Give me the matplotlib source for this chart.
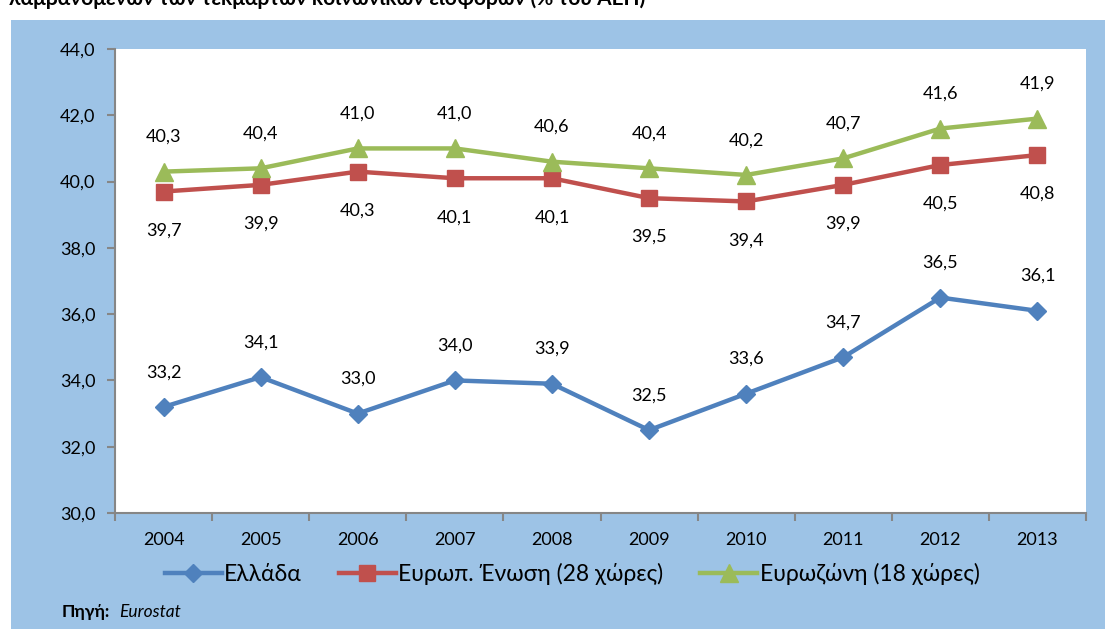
import matplotlib
matplotlib.use('Agg')
import matplotlib.pyplot as plt
from matplotlib.patches import Rectangle
from matplotlib.ticker import FuncFormatter

plt.rcParams['font.family'] = ['Lato', 'Noto Sans', 'DejaVu Sans']

#----- data (% of GDP)
years = [2004, 2005, 2006, 2007, 2008, 2009, 2010, 2011, 2012, 2013]
greece = [33.2, 34.1, 33.0, 34.0, 33.9, 32.5, 33.6, 34.7, 36.5, 36.1]
eu28 = [39.7, 39.9, 40.3, 40.1, 40.1, 39.5, 39.4, 39.9, 40.5, 40.8]
ez18 = [40.3, 40.4, 41.0, 41.0, 40.6, 40.4, 40.2, 40.7, 41.6, 41.9]
labels = ['Ελλάδα', 'Ευρωπ. Ένωση (28 χώρες)', 'Ευρωζώνη (18 χώρες)']
title = 'λαμβανομένων των τεκμαρτών κοινωνικών εισφορών (% του ΑΕΠ)'

W, H = 1105, 629
fig = plt.figure(figsize=(W/100, H/100), dpi=100)
fig.patch.set_facecolor('white')
bg = '#9DC3E6'
fig.patches.append(Rectangle((11/W, 0), 1 - 11/W, 1 - 20/H, transform=fig.transFigure,
                             facecolor=bg, edgecolor='none', zorder=-10))

fig.text(9/W, 1 + 1/H, title, fontsize=15, fontweight='bold', ha='left', va='center')

ax = fig.add_axes([115/W, 1 - 513/H, 971/W, (513 - 49)/H])
ax.set_zorder(2)
ax.set_facecolor('white')

x = list(range(len(years)))
blue = '#4F81BD'
red = '#C0504D'
green = '#9BBB59'
ax.plot(x, greece, color=blue, lw=3.2, marker='D', ms=9, label=labels[0], zorder=3)
ax.plot(x, eu28, color=red, lw=3.2, marker='s', ms=11, label=labels[1], zorder=3)
ax.plot(x, ez18, color=green, lw=3.2, marker='^', ms=13, label=labels[2], zorder=3)

def fmt(v):
    return ('%.1f' % v).replace('.', ',')

for i in x:
    ax.annotate(fmt(greece[i]), (i, greece[i]), xytext=(0, 25), textcoords='offset points',
                ha='center', va='center', fontsize=13)
    ax.annotate(fmt(eu28[i]), (i, eu28[i]), xytext=(0, -28), textcoords='offset points',
                ha='center', va='center', fontsize=13)
    ax.annotate(fmt(ez18[i]), (i, ez18[i]), xytext=(0, 25), textcoords='offset points',
                ha='center', va='center', fontsize=13)

ax.set_ylim(30, 44)
ax.set_yticks([30, 32, 34, 36, 38, 40, 42, 44])
ax.yaxis.set_major_formatter(FuncFormatter(lambda v, p: fmt(v)))
ax.set_xlim(-0.5, len(years) - 0.5)
ax.set_xticks(x)
ax.set_xticklabels([str(y) for y in years])
ax.set_xticks([i - 0.5 for i in range(len(years) + 1)], minor=True)
ax.tick_params(axis='x', which='major', length=0, pad=14, labelsize=13)
ax.tick_params(axis='x', which='minor', length=6, color='#868686', width=1.5, direction='out')
ax.tick_params(axis='y', length=6, color='#868686', width=1.5, direction='out', pad=8, labelsize=13)

for s in ['top', 'right']:
    ax.spines[s].set_visible(False)
for s in ['left', 'bottom']:
    ax.spines[s].set_color('#868686')
    ax.spines[s].set_linewidth(1.5)

fig.legend(loc='center', bbox_to_anchor=(572/W, 1 - 574/H), ncol=3, frameon=False,
           fontsize=16.5, handlelength=2.5, handletextpad=0.1, columnspacing=1.6)

fig.text(62/W, 1 - 612/H, 'Πηγή:', fontsize=12.5, fontweight='bold', ha='left', va='center')
fig.text(119/W, 1 - 612/H, 'Eurostat', fontsize=12.5, style='italic', ha='left', va='center')

plt.savefig('out.png', dpi=100)
plt.close('all')
